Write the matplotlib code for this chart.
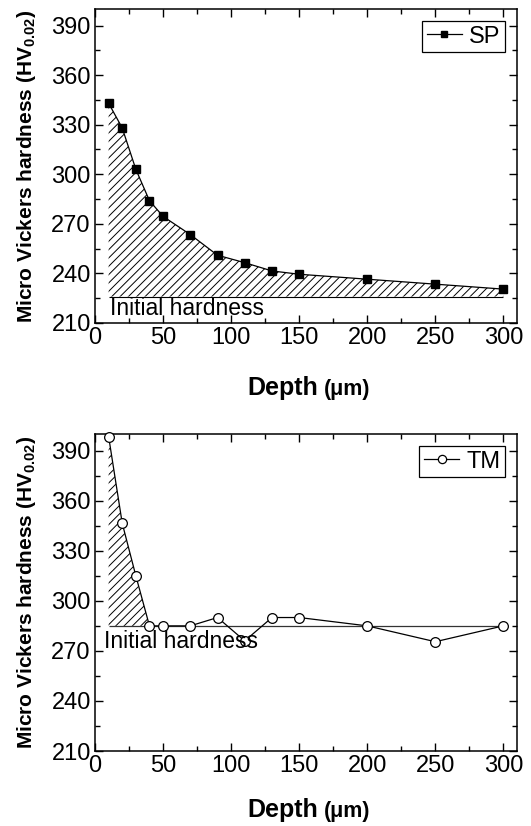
import matplotlib
matplotlib.use("Agg")
import matplotlib.pyplot as plt
from matplotlib.ticker import MultipleLocator
import numpy as np

plt.rcParams['font.family'] = ['Liberation Sans', 'DejaVu Sans']
plt.rcParams['hatch.linewidth'] = 0.7
plt.rcParams['mathtext.fontset'] = 'custom'
plt.rcParams['mathtext.rm'] = 'Liberation Sans'
plt.rcParams['mathtext.bf'] = 'Liberation Sans:bold'

# Data
depth = [10, 20, 30, 40, 50, 70, 90, 110, 130, 150, 200, 250, 300]
sp_hardness = [343, 328, 303, 284, 274.5, 263.5, 251, 246.5, 241.5, 239.5, 236.5, 233.5, 230.5]
tm_hardness = [398.5, 346.5, 315, 285, 285, 285, 290, 276, 290, 290, 285, 275.5, 285]
sp_initial = 226
tm_initial = 285
x_ticks = [0, 50, 100, 150, 200, 250, 300]
y_ticks = [210, 240, 270, 300, 330, 360, 390]

W, H = 531, 826
fig = plt.figure(figsize=(W / 100, H / 100), dpi=100)

def px_axes(left, top, right, bottom):
    return fig.add_axes([left / W, 1 - bottom / H, (right - left) / W, (bottom - top) / H])

ax1 = px_axes(95, 9, 517, 323)
ax2 = px_axes(95, 434, 517, 751)

def style(ax):
    ax.set_xlim(0, 310)
    ax.set_ylim(210, 400)
    ax.set_xticks(x_ticks)
    ax.set_yticks(y_ticks)
    ax.xaxis.set_minor_locator(MultipleLocator(25))
    ax.yaxis.set_minor_locator(MultipleLocator(15))
    ax.tick_params(which='both', direction='in', top=True, right=True,
                   labeltop=False, labelright=False, width=1, labelsize=17, pad=3)
    ax.tick_params(which='major', length=6)
    ax.tick_params(which='minor', length=3.5)
    for s in ax.spines.values():
        s.set_linewidth(1.1)
    ax.set_ylabel('Micro Vickers hardness (HV$_{\\mathbf{0.02}}$)', fontsize=15, fontweight='bold')
    ax.yaxis.set_label_coords(-0.136, 0.5)

# Top panel: SP
style(ax1)
ax1.fill_between(depth, sp_hardness, sp_initial, facecolor='white', edgecolor='black',
                 hatch='////', linewidth=0, zorder=1)
ax1.hlines(sp_initial, depth[0], depth[-1], color='black', linewidth=0.8, zorder=2)
ax1.plot(depth, sp_hardness, '-', color='black', marker='s', markersize=5.5,
         linewidth=0.9, label='SP', zorder=3)
ax1.text(11, 218.5, 'Initial hardness', fontsize=16.5, va='center', ha='left')
leg1 = ax1.legend(loc='upper right', fontsize=17, handlelength=1.5, handletextpad=0.3,
                  borderpad=0.2, borderaxespad=0.5, fancybox=False, framealpha=1,
                  edgecolor='black', markerscale=0.85)
leg1.get_frame().set_linewidth(0.9)

# Bottom panel: TM
style(ax2)
n_fill = 4
ax2.fill_between(depth[:n_fill], tm_hardness[:n_fill], tm_initial, facecolor='white',
                 edgecolor='black', hatch='////', linewidth=0, zorder=1)
ax2.hlines(tm_initial, depth[0], depth[-1], color='#333333', linewidth=0.9, zorder=2)
ax2.plot(depth, tm_hardness, '-', color='black', marker='o', markersize=7,
         markerfacecolor='white', markeredgewidth=0.9, linewidth=0.9, label='TM',
         zorder=3, clip_on=False)
ax2.text(6.5, 275.5, 'Initial hardness', fontsize=16.5, va='center', ha='left')
leg2 = ax2.legend(loc='upper right', fontsize=17, handlelength=1.5, handletextpad=0.3,
                  borderpad=0.2, borderaxespad=0.5, fancybox=False, framealpha=1,
                  edgecolor='black', markerscale=0.85)
leg2.get_frame().set_linewidth(0.9)

# X labels
for base in (395, 817):
    fig.text(247 / W, 1 - base / H, 'Depth', fontsize=18, fontweight='bold',
             ha='left', va='baseline')
    fig.text(324 / W, 1 - base / H, '(\u03bcm)', fontsize=15.5, fontweight='bold',
             ha='left', va='baseline')

fig.savefig('out.png', dpi=100)
